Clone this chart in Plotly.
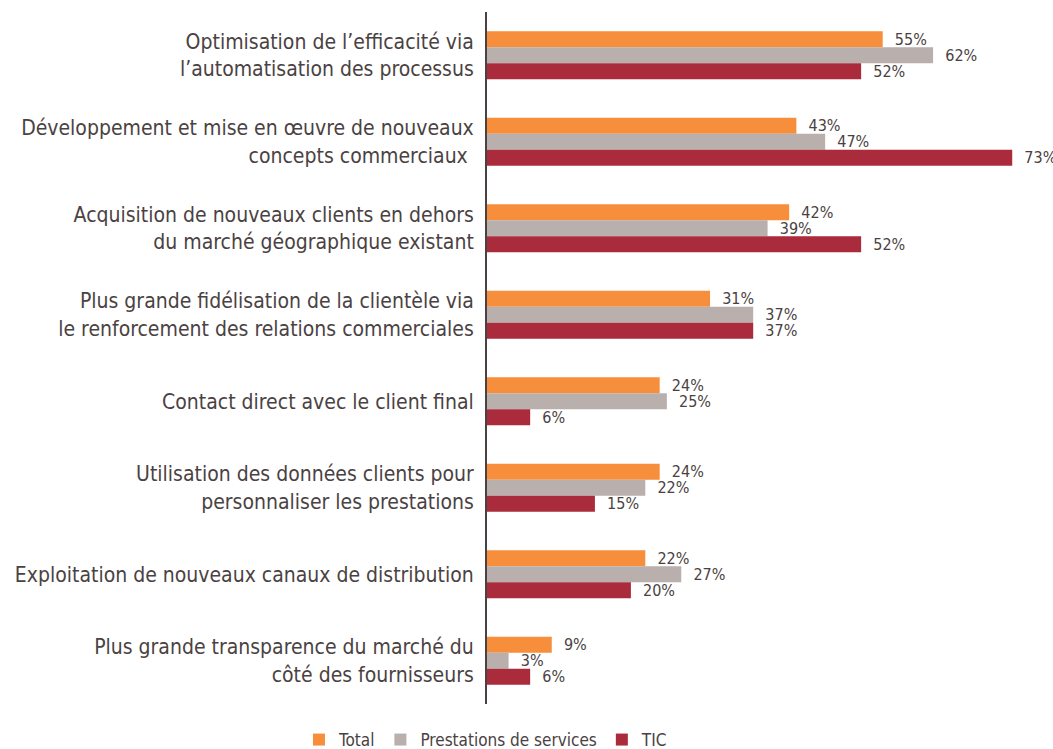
import plotly.graph_objects as go

categories = [
    "Optimisation de l’efficacité via<br>l’automatisation des processus",
    "Développement et mise en œuvre de nouveaux<br>concepts commerciaux ",
    "Acquisition de nouveaux clients en dehors<br>du marché géographique existant",
    "Plus grande fidélisation de la clientèle via<br>le renforcement des relations commerciales",
    "Contact direct avec le client final",
    "Utilisation des données clients pour<br>personnaliser les prestations",
    "Exploitation de nouveaux canaux de distribution",
    "Plus grande transparence du marché du<br>côté des fournisseurs",
]
total = [55, 43, 42, 31, 24, 24, 22, 9]
services = [62, 47, 39, 37, 25, 22, 27, 3]
tic = [52, 73, 52, 37, 6, 15, 20, 6]

series = [
    ("Total", total, "#F68E3C"),
    ("Prestations de services", services, "#B9AFAD"),
    ("TIC", tic, "#A92B3C"),
]

FONT = "DejaVu Sans Condensed, Liberation Sans Narrow, sans-serif"
TXT = "#4a4242"

fig = go.Figure()
for name, vals, col in series:
    fig.add_trace(go.Bar(
        y=categories, x=vals, name=name, orientation="h",
        marker=dict(color=col, line=dict(width=0)),
        text=[f"  {v}%" for v in vals], textposition="outside",
        constraintext="none", cliponaxis=False,
        textfont=dict(family=FONT, size=16, color=TXT),
    ))

fig.update_layout(
    width=1053, height=749,
    barmode="group", bargap=0.445, bargroupgap=0,
    plot_bgcolor="white", paper_bgcolor="white",
    margin=dict(l=487, r=12, t=12, b=45, autoexpand=False),
    font=dict(family=FONT, color=TXT),
    legend=dict(orientation="h", xref="container", x=0.4615, xanchor="center",
                yref="container", y=0.012, yanchor="middle",
                font=dict(family=FONT, size=17, color=TXT), traceorder="normal"),
    showlegend=True,
)
fig.update_xaxes(range=[0, 77], visible=False)
fig.update_yaxes(autorange="reversed", showline=True, linecolor="#4a4242", linewidth=2,
                 ticks="", ticklabelstandoff=7, automargin=False,
                 tickfont=dict(family=FONT, size=21, color=TXT))

fig.write_html("out.html", config={"displayModeBar": False},
               post_script="document.body.style.margin='0';document.body.style.overflow='hidden';")
